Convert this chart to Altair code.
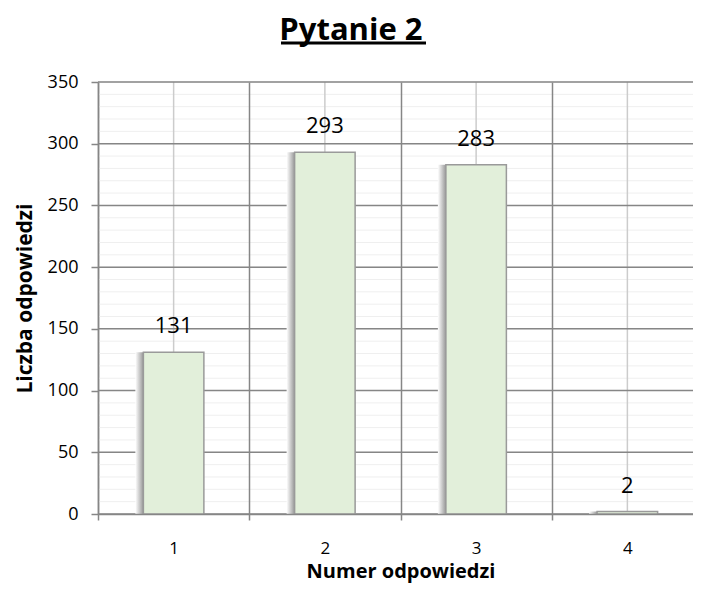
import altair as alt
import pandas as pd

# ---- data ----
categories = ["1", "2", "3", "4"]
values = [131, 293, 283, 2]
major_ticks = [0, 50, 100, 150, 200, 250, 300, 350]
minor_ticks = list(range(0, 351, 10))

FONT = "Open Sans"
GRID = "#868686"

df = pd.DataFrame({"cat": categories, "val": values})
minor_df = pd.DataFrame({"v": minor_ticks})
major_df = pd.DataFrame({"v": major_ticks})

x_scale = alt.Scale(domain=categories, paddingInner=0, paddingOuter=0)
y_scale = alt.Scale(domain=[0, 350], nice=False, zero=True)

x_axis = alt.Axis(
    title="Numer odpowiedzi", labelAngle=0, tickBand="extent",
    grid=True, gridColor=GRID, gridWidth=1.5,
    domainColor=GRID, domainWidth=1.5, tickColor=GRID, tickWidth=1.5, tickSize=6,
    labelFont=FONT, labelFontSize=17, labelColor="black", labelPadding=20,
    titleFont=FONT, titleFontSize=20, titleFontWeight="bold", titleColor="black",
    titlePadding=5, zindex=1,
)
y_axis = alt.Axis(
    title="Liczba odpowiedzi", values=major_ticks, grid=False,
    domainColor=GRID, domainWidth=1.5, tickColor=GRID, tickWidth=1.5, tickSize=7,
    labelFont=FONT, labelFontSize=18, labelColor="black", labelPadding=13,
    titleFont=FONT, titleFontSize=21, titleFontWeight="bold", titleColor="black",
    titlePadding=12,
)

X = alt.X("cat:N", scale=x_scale, axis=x_axis)
Y = alt.Y("val:Q", scale=y_scale, axis=y_axis)

minor = alt.Chart(minor_df).mark_rule(color="#EFEFEF", strokeWidth=1).encode(
    y=alt.Y("v:Q", scale=y_scale, axis=y_axis)
)
center = alt.Chart(df).mark_rule(color="#CCCCCC", strokeWidth=1.5).encode(
    x=X, y=alt.datum(0), y2=alt.datum(350)
)
major = alt.Chart(major_df).mark_rule(color=GRID, strokeWidth=1.5).encode(
    y=alt.Y("v:Q", scale=y_scale, axis=y_axis)
)

shadow_grad = alt.LinearGradient(
    gradient="linear",
    stops=[alt.GradientStop(color="#ffffff", offset=0),
           alt.GradientStop(color="#8a8a8a", offset=0.15),
           alt.GradientStop(color="#8a8a8a", offset=1)],
    x1=0, x2=1, y1=0, y2=0,
)
BAND = alt.RelativeBandSize(0.4)
shadow = alt.Chart(df).mark_bar(color=shadow_grad, xOffset=-8, width=BAND).encode(x=X, y=Y)
bars = alt.Chart(df).mark_bar(
    fill="#E2EFDA", stroke="#9A9A9A", strokeWidth=1.5, width=BAND
).encode(x=X, y=Y)
labels = alt.Chart(df).mark_text(
    font=FONT, fontSize=22, color="black", baseline="alphabetic", dy=-19
).encode(x=X, y=Y, text="val:Q")

underline = alt.Chart(pd.DataFrame({"a": [0]})).mark_rule(
    color="black", strokeWidth=3
).encode(x=alt.value(183), x2=alt.value(328), y=alt.value(-39))

chart = alt.layer(minor, center, major, shadow, bars, labels, underline).properties(
    width=685, height=575,
    autosize=alt.AutoSizeParams(type="fit", contains="padding"),
    padding={"left": 6, "top": 6, "right": -11, "bottom": 2},
    title=alt.TitleParams(
        "Pytanie 2", font=FONT, fontSize=31, fontWeight="bold", color="black",
        anchor="middle", frame="bounds", offset=-5, dx=-8,
    ),
).configure_view(stroke=None)

chart.save("out.html", embed_options={"renderer": "svg", "actions": False})
